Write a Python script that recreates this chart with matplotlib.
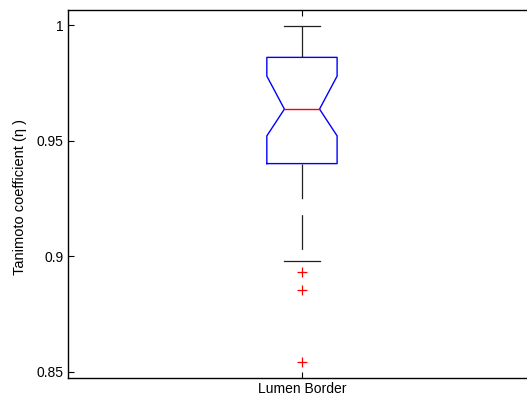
import numpy as np
import matplotlib
matplotlib.use("Agg")
import matplotlib.pyplot as plt

# box statistics
label = "Lumen Border"
q1 = 0.9401
med = 0.9637
q3 = 0.9861
whislo = 0.8979
whishi = 0.9997
cilo = 0.9521
cihi = 0.9780
fliers = [0.8932, 0.8854, 0.8542]

yticks = [0.85, 0.9, 0.95, 1.0]
yticklabels = ["0.85", "0.9", "0.95", "1"]

plt.rcParams["font.family"] = ["Liberation Sans", "DejaVu Sans"]
plt.rcParams["lines.scale_dashes"] = False

fig = plt.figure(figsize=(5.27, 4.01), dpi=100)
ax = fig.add_axes([0.1285, 0.0574, 0.889, 0.9185])

stats = [dict(label=label, q1=q1, med=med, q3=q3, whislo=whislo,
              whishi=whishi, cilo=cilo, cihi=cihi, fliers=np.array(fliers))]

ax.bxp(stats, positions=[1], widths=0.15, shownotches=True,
       boxprops=dict(color="#0000ff", linewidth=1.0),
       medianprops=dict(color="#ff0000", linewidth=1.0),
       whiskerprops=dict(color="#202020", linewidth=0.9, linestyle=(0, (25, 11.5))),
       capprops=dict(color="#202020", linewidth=0.9),
       flierprops=dict(marker="+", markeredgecolor="#ff0000", markersize=7,
                       markeredgewidth=0.9, linestyle="none"))

ax.set_xlim(0.5, 1.5)
ax.set_ylim(0.84727, 1.00676)
ax.set_yticks(yticks)
ax.set_yticklabels(yticklabels)
ax.set_xticks([1])
ax.set_xticklabels([label])
ax.set_ylabel("Tanimoto coefficient (η )", fontsize=10.5)
ax.yaxis.set_label_coords(-0.087, 0.492)

ax.tick_params(direction="in", length=4, width=0.8, labelsize=10,
               top=True, right=True, pad=3)
for s in ax.spines.values():
    s.set_linewidth(1.0)

fig.savefig("out.png", dpi=100)
